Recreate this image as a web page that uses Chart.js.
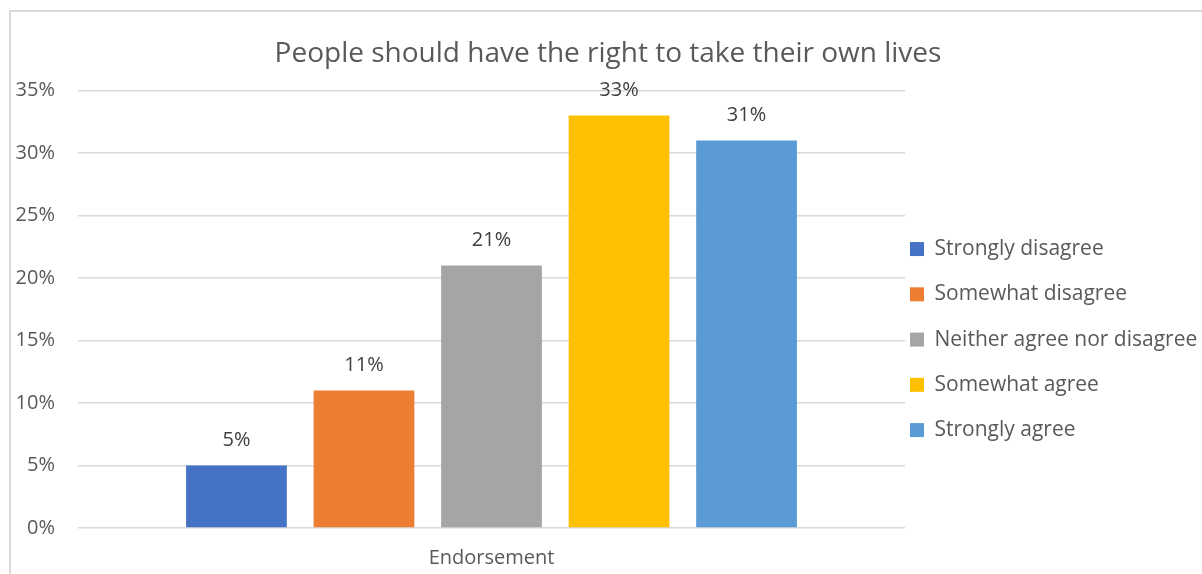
<!DOCTYPE html>
<html lang="en">
<head>
    <meta charset="UTF-8">
    <title>People should have the right to take their own lives</title>
    <style>
        body {
            margin: 0;
            padding: 0;
            background-color: #fff;
            overflow: hidden;
        }

        .frame {
            position: absolute;
            left: 9px;
            top: 10px;
            width: 1400px;
            height: 800px;
            border: 2px solid #d9d9d9;
        }

        .chart-box {
            position: absolute;
            left: 0;
            top: 0;
            width: 1202px;
            height: 574px;
        }
    </style>
</head>
<body>

    <div class="frame"></div>
    <div class="chart-box">
        <canvas id="barChart" width="1202" height="574"></canvas>
    </div>

    <script src="https://cdn.jsdelivr.net/npm/chart.js"></script>
    <script>
        // Chart data
        const categories = ['Endorsement'];
        const seriesNames = ['Strongly disagree', 'Somewhat disagree', 'Neither agree nor disagree', 'Somewhat agree', 'Strongly agree'];
        const seriesValues = [5, 11, 21, 33, 31];
        const yTickLabels = ['0%', '5%', '10%', '15%', '20%', '25%', '30%', '35%'];

        const seriesColors = ['#4472C4', '#ED7D31', '#A5A5A5', '#FFC000', '#5B9BD5'];
        const fontFamily = '"Open Sans", Lato, sans-serif';
        const textColor = '#595959';

        // one dataset per answer, all in the single category
        const datasets = seriesNames.map((name, i) => ({
            label: name,
            data: [seriesValues[i]],
            backgroundColor: seriesColors[i],
            borderWidth: 0,
            categoryPercentage: 0.771,
            barPercentage: 0.79
        }));

        // Value labels above each bar
        const barLabels = {
            id: 'barLabels',
            afterDatasetsDraw(chart) {
                const ctx = chart.ctx;
                ctx.save();
                ctx.font = '20px ' + fontFamily;
                ctx.fillStyle = '#404040';
                ctx.textAlign = 'center';
                ctx.textBaseline = 'middle';
                chart.data.datasets.forEach((ds, i) => {
                    chart.getDatasetMeta(i).data.forEach((bar, j) => {
                        ctx.fillText(ds.data[j] + '%', bar.x, bar.y - 25);
                    });
                });
                ctx.restore();
            }
        };

        const ctx = document.getElementById('barChart').getContext('2d');
        const barChart = new Chart(ctx, {
            type: 'bar',
            data: {
                labels: categories,
                datasets: datasets
            },
            options: {
                responsive: false,
                animation: false,
                layout: {
                    padding: { left: 14, right: 0, top: 0, bottom: 0 }
                },
                scales: {
                    x: {
                        grid: { display: false, drawTicks: false },
                        border: { display: false },
                        ticks: {
                            color: textColor,
                            font: { family: fontFamily, size: 20 },
                            padding: 18
                        },
                        afterFit: (scale) => { scale.height = 46; }
                    },
                    y: {
                        min: 0,
                        max: 35,
                        grid: { color: '#d9d9d9', lineWidth: 1.5, drawTicks: false },
                        border: { display: false },
                        ticks: {
                            stepSize: 5,
                            color: textColor,
                            font: { family: fontFamily, size: 20 },
                            padding: 23,
                            callback: (value, index) => yTickLabels[index]
                        },
                        afterFit: (scale) => { scale.width = 64; }
                    }
                },
                plugins: {
                    title: {
                        display: true,
                        text: 'People should have the right to take their own lives',
                        color: textColor,
                        font: { family: fontFamily, size: 28, weight: 'normal' },
                        padding: { top: 37, bottom: 20 }
                    },
                    legend: {
                        position: 'right',
                        maxWidth: 297,
                        title: {
                            display: true,
                            text: ' ',
                            font: { size: 12 },
                            padding: { top: 0, bottom: 110 }
                        },
                        labels: {
                            color: textColor,
                            font: { family: fontFamily, size: 21, lineHeight: 1.917 },
                            boxWidth: 14,
                            boxHeight: 14,
                            padding: 5,
                            // one-line arrays so the font lineHeight sets the row spacing
                            generateLabels: (chart) => Chart.defaults.plugins.legend.labels.generateLabels(chart)
                                .map(item => Object.assign(item, { text: [item.text] }))
                        }
                    },
                    tooltip: { enabled: false }
                }
            },
            plugins: [barLabels]
        });
    </script>

</body>
</html>
